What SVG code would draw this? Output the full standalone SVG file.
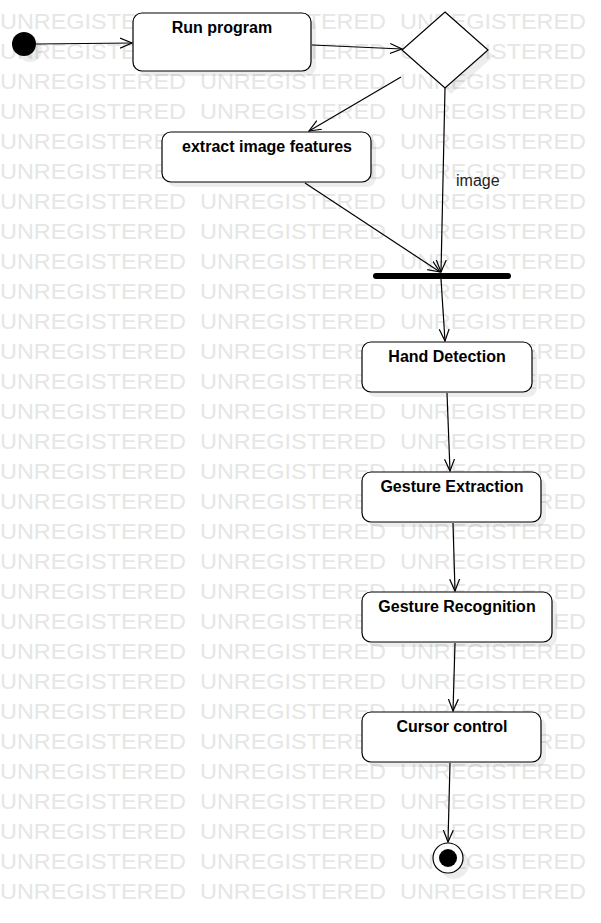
<svg xmlns="http://www.w3.org/2000/svg" xmlns:xlink="http://www.w3.org/1999/xlink" width="601" height="923" viewBox="0 0 601 923">
<style>
.wm{font-family:"Liberation Sans",Arial,sans-serif;font-size:22px;fill:#e6e6e6}
.node{fill:#fff;stroke:#000;stroke-width:1.2}
.shadow{fill:#000;fill-opacity:0.07;stroke:none}
.lbl{font-family:"Liberation Sans",Arial,sans-serif;font-size:16px;font-weight:bold;fill:#000;text-anchor:middle}
.edge{fill:none;stroke:#000;stroke-width:1.2}
.elbl{font-family:"Liberation Sans",Arial,sans-serif;font-size:16px;fill:#222}
</style>
<defs>
<marker id="arr" markerUnits="userSpaceOnUse" viewBox="0 0 13 12" refX="12" refY="6" markerWidth="13" markerHeight="12" orient="auto">
<path d="M0,1 L12,6 L0,11" fill="none" stroke="#000" stroke-width="1.2"/>
</marker>
<g id="wmrow">
<text class="wm" x="0" y="0" textLength="186" lengthAdjust="spacingAndGlyphs">UNREGISTERED</text>
<text class="wm" x="200" y="0" textLength="186" lengthAdjust="spacingAndGlyphs">UNREGISTERED</text>
<text class="wm" x="400" y="0" textLength="186" lengthAdjust="spacingAndGlyphs">UNREGISTERED</text>
</g>
</defs>
<rect x="0" y="0" width="601" height="923" fill="#fff"/>
<g id="watermark">
<use xlink:href="#wmrow" y="29"/><use xlink:href="#wmrow" y="59"/><use xlink:href="#wmrow" y="89"/><use xlink:href="#wmrow" y="119"/><use xlink:href="#wmrow" y="149"/><use xlink:href="#wmrow" y="179"/><use xlink:href="#wmrow" y="209"/><use xlink:href="#wmrow" y="239"/><use xlink:href="#wmrow" y="269"/><use xlink:href="#wmrow" y="299"/><use xlink:href="#wmrow" y="329"/><use xlink:href="#wmrow" y="359"/><use xlink:href="#wmrow" y="389"/><use xlink:href="#wmrow" y="419"/><use xlink:href="#wmrow" y="449"/><use xlink:href="#wmrow" y="479"/><use xlink:href="#wmrow" y="509"/><use xlink:href="#wmrow" y="539"/><use xlink:href="#wmrow" y="569"/><use xlink:href="#wmrow" y="599"/><use xlink:href="#wmrow" y="629"/><use xlink:href="#wmrow" y="659"/><use xlink:href="#wmrow" y="689"/><use xlink:href="#wmrow" y="719"/><use xlink:href="#wmrow" y="749"/><use xlink:href="#wmrow" y="779"/><use xlink:href="#wmrow" y="809"/><use xlink:href="#wmrow" y="839"/><use xlink:href="#wmrow" y="869"/><use xlink:href="#wmrow" y="899"/>
</g>

<g id="start">
<circle class="shadow" cx="30" cy="50" r="12"/>
<circle cx="24" cy="44" r="12" fill="#000"/>
</g>
<g id="run-program">
<rect class="shadow" x="138" y="18" width="178" height="58" rx="9"/>
<rect class="node" x="133" y="13" width="178" height="58" rx="9"/>
<text class="lbl" x="222" y="33">Run program</text>
</g>
<g id="decision">
<polygon class="shadow" points="451,18 494,56 451,94 408,56"/>
<polygon class="node" points="445,12 488,50 445,88 402,50"/>
</g>
<g id="extract-image-features">
<rect class="shadow" x="167" y="137" width="209" height="50" rx="9"/>
<rect class="node" x="162" y="132" width="209" height="50" rx="9"/>
<text class="lbl" x="267" y="152">extract image features</text>
</g>
<g id="join-bar">
<rect x="373" y="273" width="138" height="6" rx="3" fill="#000"/>
</g>
<g id="hand-detection">
<rect class="shadow" x="367" y="347" width="170" height="50" rx="9"/>
<rect class="node" x="362" y="342" width="170" height="50" rx="9"/>
<text class="lbl" x="447" y="362">Hand Detection</text>
</g>
<g id="gesture-extraction">
<rect class="shadow" x="367" y="477" width="179" height="50" rx="9"/>
<rect class="node" x="362" y="472" width="179" height="50" rx="9"/>
<text class="lbl" x="452" y="492">Gesture Extraction</text>
</g>
<g id="gesture-recognition">
<rect class="shadow" x="367" y="597" width="190" height="50" rx="9"/>
<rect class="node" x="362" y="592" width="190" height="50" rx="9"/>
<text class="lbl" x="457" y="612">Gesture Recognition</text>
</g>
<g id="cursor-control">
<rect class="shadow" x="367" y="717" width="179" height="50" rx="9"/>
<rect class="node" x="362" y="712" width="179" height="50" rx="9"/>
<text class="lbl" x="452" y="732">Cursor control</text>
</g>
<g id="end">
<circle class="shadow" cx="454" cy="864" r="15"/>
<circle class="node" cx="448" cy="858" r="15"/>
<circle cx="448" cy="858" r="9" fill="#000"/>
</g>

<g id="connectors">
<line class="edge" x1="36" y1="44" x2="132" y2="43" marker-end="url(#arr)"/>
<line class="edge" x1="312" y1="45" x2="402" y2="49" marker-end="url(#arr)"/>
<line class="edge" x1="401" y1="77" x2="309" y2="131" marker-end="url(#arr)"/>
<line class="edge" x1="445" y1="88" x2="441" y2="272" marker-end="url(#arr)"/>
<text class="elbl" x="456" y="186">image</text>
<line class="edge" x1="305" y1="183" x2="440" y2="272" marker-end="url(#arr)"/>
<line class="edge" x1="441" y1="279" x2="445" y2="341" marker-end="url(#arr)"/>
<line class="edge" x1="447" y1="393" x2="450" y2="471" marker-end="url(#arr)"/>
<line class="edge" x1="453" y1="523" x2="455" y2="591" marker-end="url(#arr)"/>
<line class="edge" x1="455" y1="643" x2="453" y2="711" marker-end="url(#arr)"/>
<line class="edge" x1="450" y1="763" x2="448" y2="842" marker-end="url(#arr)"/>
</g>
</svg>
